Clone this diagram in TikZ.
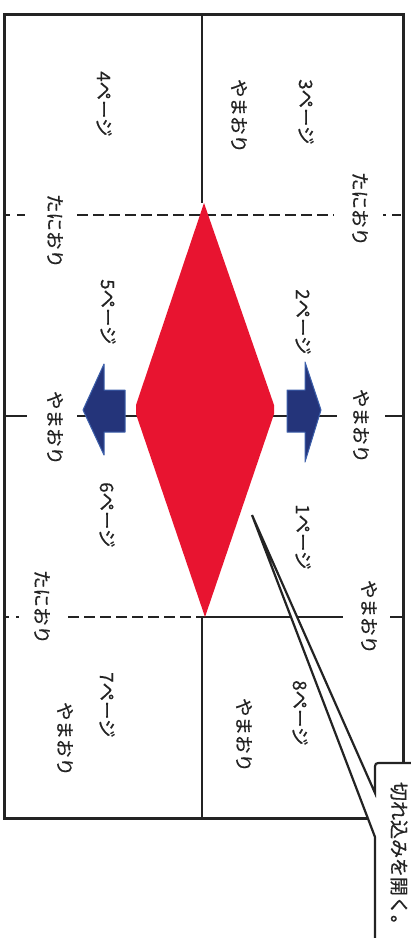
\documentclass[tikz,border=0pt]{standalone}
\usepackage{fontspec}
\setmainfont{Noto Sans CJK JP}[FakeBold=0.6]
\definecolor{ink}{RGB}{35,35,35}
\definecolor{dred}{RGB}{232,20,48}
\definecolor{navy}{RGB}{36,52,122}
\definecolor{lblue}{RGB}{60,95,170}
\begin{document}
\begin{tikzpicture}[x=1pt,y=-1pt,
  lbl/.style={rotate=-90,inner sep=0pt,text=ink,font=\fontsize{18.5}{18.5}\selectfont},
  frame/.style={line width=3pt,draw=ink},
  fold/.style={line width=1.4pt,draw=ink},
  valley/.style={line width=1.8pt,draw=ink,dash pattern=on 11pt off 5pt},
  arrowshape/.style={fill=navy,draw=lblue,line width=1pt,line join=round},
  balloon/.style={fill=white,draw=ink,line width=2.2pt,line join=miter}]
\useasboundingbox (0,0) rectangle (411,938);
\fill[white] (0,0) rectangle (411,938);

% outer frame
\draw[frame] (4,14) rectangle (403,818);

% centre fold line
\coordinate (dt) at (204,203);
\coordinate (db) at (205,617);
\draw[fold] (202,14) -- (202,203);
\draw[fold] (202,617) -- (202,818);

% top valley fold
\draw[valley] (5,215) -- (10,215);
\draw[valley] (17,215) -- (25,215);
\draw[valley] (77,215) -- (334,215);
\draw[valley] (383,215) -- (386,215);
\draw[valley] (392,215) -- (401,215);

% middle mountain fold
\draw[fold] (5,416) -- (27,416);
\draw[fold] (77,416) -- (137,416);
\draw[fold] (273,416) -- (337,416);
\draw[fold] (385,416) -- (402,416);

% bottom fold: valley left, mountain right
\draw[valley] (5,617) -- (9,617);
\draw[valley] (16,617) -- (19,617);
\draw[valley] (68,617) -- (202,617);
\draw[fold] (202,617) -- (343,617);
\draw[fold] (390,617) -- (402,617);

% red diamond
\fill[dred] (dt) -- (274,405) -- (274,414) -- (db) -- (136,414) -- (136,405) -- cycle;

% blue arrows
\draw[arrowshape] (83,410) -- (104,364) -- (104,390) -- (125,390) -- (125,432) -- (104,432) -- (104,455) -- cycle;
\draw[arrowshape] (287,390) -- (305,390) -- (305,362) -- (321,410) -- (305,462) -- (305,432) -- (287,432) -- cycle;

% labels
\node[lbl] (p3) at (306,112) {3ページ};
\node[lbl] (y1) at (239,116) {やまおり};
\node[lbl] (p4) at (104,104) {4ページ};
\node[lbl] (t1) at (360,209) {たにおり};
\node[lbl] (t2) at (55,231) {たにおり};
\node[lbl] (p2) at (303,322) {2ページ};
\node[lbl] (p5) at (108,312) {5ページ};
\node[lbl] (y2) at (361,426) {やまおり};
\node[lbl] (y3) at (55,428) {やまおり};
\node[lbl] (p6) at (107,515) {6ページ};
\node[lbl] (p1) at (303,537) {1ページ};
\node[lbl] (y4) at (369,617) {やまおり};
\node[lbl] (t3) at (42,607) {たにおり};
\node[lbl] (p8) at (300,713) {8ページ};
\node[lbl] (y5) at (244,735) {やまおり};
\node[lbl] (p7) at (107,705) {7ページ};
\node[lbl] (y6) at (65,739) {やまおり};

% callout balloon
\coordinate (tip) at (252,515);
\draw[balloon] (375,793) -- (tip) -- (375,837) -- (375,950) -- (420,950) -- (420,763)
  -- (382,763) .. controls (375,763) .. (375,770) -- cycle;
\node[lbl,font=\fontsize{19}{19}\selectfont] (c) at (399,858) {切れ込みを開く。};
\end{tikzpicture}
\end{document}
